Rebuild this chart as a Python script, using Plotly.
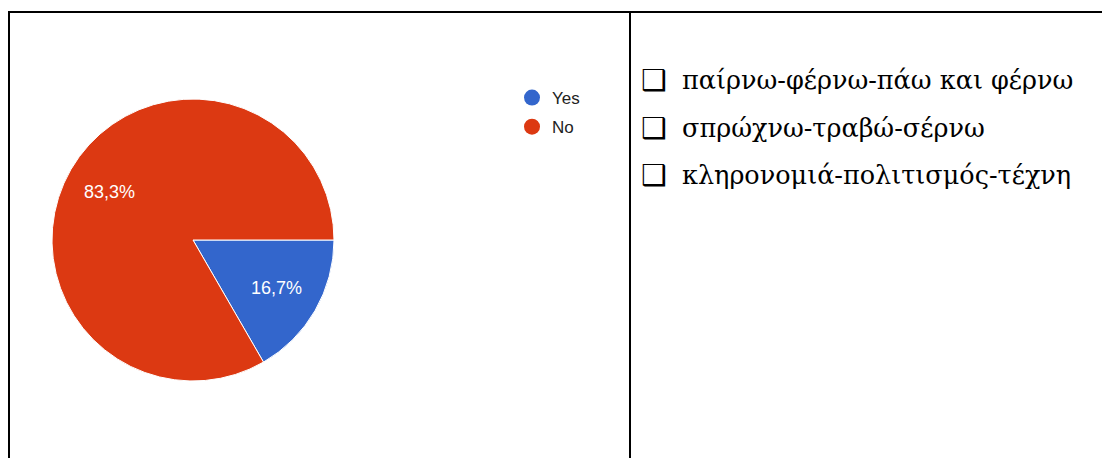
import math
import plotly.graph_objects as go

# Survey answers
labels = ["Yes", "No"]
counts = [1, 5]
colors = ["#3366CC", "#DC3912"]

# Checklist shown next to the chart
items = [
    "παίρνω-φέρνω-πάω και φέρνω",
    "σπρώχνω-τραβώ-σέρνω",
    "κληρονομιά-πολιτισμός-τέχνη",
]

W, H = 1102, 458


def px(x):
    return x / W


def py(y):
    return 1 - y / H


fig = go.Figure()

# Pie: first slice starts at 3 o'clock and runs clockwise
cx, cy, r = 193, 240, 141
dom_x = [px(cx - r), px(cx + r)]
dom_y = [py(cy + r), py(cy - r)]
fig.add_trace(go.Pie(
    labels=labels,
    values=counts,
    sort=False,
    direction="clockwise",
    rotation=90,
    marker=dict(colors=colors, line=dict(color="white", width=1)),
    textinfo="none",
    hoverinfo="label+percent",
    showlegend=False,
    domain=dict(x=dom_x, y=dom_y),
))

# Percentage labels at each slice's mid angle, 0.68 of the radius out
total = sum(counts)
start = 0.0
annotations = []
for v in counts:
    frac = v / total
    mid = -(start + frac / 2) * 2 * math.pi  # clockwise from 3 o'clock
    lx = (dom_x[0] + dom_x[1]) / 2 + 0.68 * r * math.cos(mid) / W
    ly = (dom_y[0] + dom_y[1]) / 2 + 0.68 * r * math.sin(mid) / H
    annotations.append(dict(
        xref="paper", yref="paper", x=lx, y=ly, showarrow=False,
        xanchor="center", yanchor="middle",
        text=f"{frac * 100:.1f}%".replace(".", ","),
        font=dict(family="Arial, Liberation Sans", size=18, color="white"),
    ))
    start += frac

# Round legend markers via empty scatter traces
for lab, col in zip(labels, colors):
    fig.add_trace(go.Scatter(
        x=[None], y=[None], mode="markers", name=lab, legendgroup=lab,
        marker=dict(symbol="circle", size=16, color=col),
        showlegend=True,
    ))

# Table borders
border = dict(color="black", width=2)
shapes = [
    dict(type="line", xref="paper", yref="paper", x0=px(8), x1=1, y0=py(12), y1=py(12), line=border),
    dict(type="line", xref="paper", yref="paper", x0=px(9), x1=px(9), y0=py(12), y1=0, line=border),
    dict(type="line", xref="paper", yref="paper", x0=px(630), x1=px(630), y0=py(12), y1=0, line=border),
]

# Checklist items
for i, txt in enumerate(items):
    yy = py(80 + 47.5 * i)
    annotations.append(dict(
        xref="paper", yref="paper", x=px(639), y=yy,
        xanchor="left", yanchor="middle", showarrow=False,
        text="❑",
        font=dict(family="DejaVu Sans", size=29, color="black"),
    ))
    annotations.append(dict(
        xref="paper", yref="paper", x=px(680), y=yy,
        xanchor="left", yanchor="middle", showarrow=False,
        text=txt,
        font=dict(family="DejaVu Serif", size=25.5, color="black"),
    ))

fig.update_layout(
    width=W, height=H,
    margin=dict(l=0, r=0, t=0, b=0),
    paper_bgcolor="white",
    plot_bgcolor="white",
    xaxis=dict(visible=False, domain=[0.9, 1]),
    yaxis=dict(visible=False, domain=[0.9, 1]),
    legend=dict(
        x=px(512), y=py(80), xanchor="left", yanchor="top",
        font=dict(family="Arial, Liberation Sans", size=17, color="#222222"),
        bgcolor="rgba(0,0,0,0)",
        tracegroupgap=4,
    ),
    shapes=shapes,
    annotations=annotations,
)

fig.write_html("out.html")
